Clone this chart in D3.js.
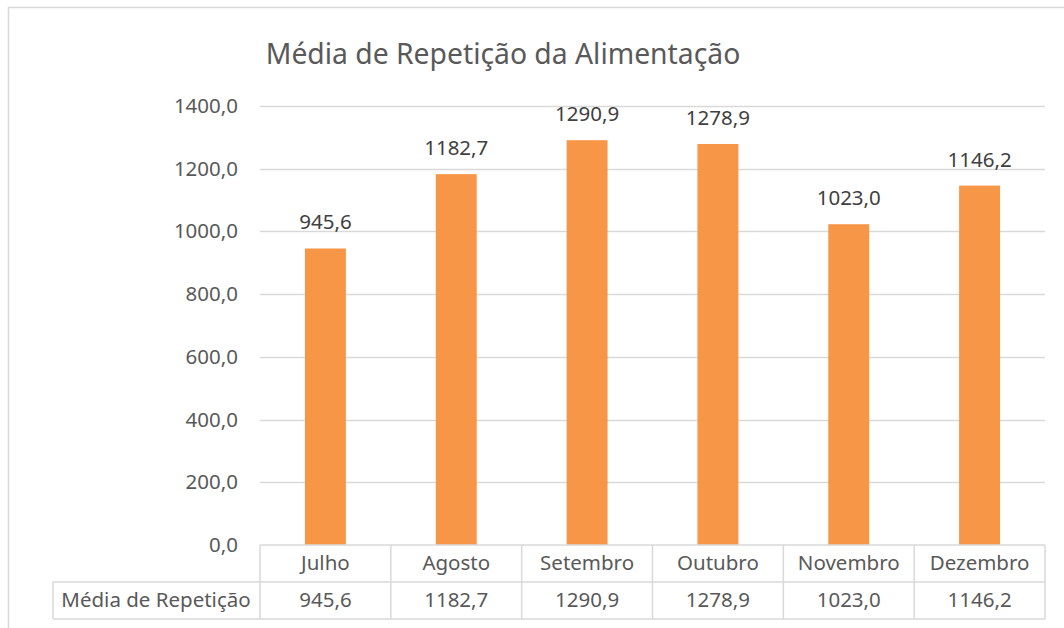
<!DOCTYPE html>
<html><head><meta charset="utf-8">
<script src="https://cdn.jsdelivr.net/npm/d3@7"></script>
<style>
html,body{margin:0;padding:0;background:#fff;}
text{font-family:"Noto Sans","Open Sans",sans-serif;}
</style></head>
<body>
<svg id="c" width="1064" height="628"></svg>
<script>
const title = "Média de Repetição da Alimentação";
const categories = ["Julho","Agosto","Setembro","Outubro","Novembro","Dezembro"];
const values = [945.6,1182.7,1290.9,1278.9,1023.0,1146.2];
const seriesName = "Média de Repetição";
const yTicks = [0,200,400,600,800,1000,1200,1400];

const fmt = v => d3.format(".1f")(v).replace(".", ",");
const svg = d3.select("#c");
const grid = "#d9d9d9", txt = "#595959";

// outer frame
svg.append("path").attr("d","M8.5,628 V7.5 H1064").attr("fill","none").attr("stroke",grid).attr("stroke-width",1.5);

const x = d3.scaleBand().domain(categories).range([260,1045]).padding(0);
const y = d3.scaleLinear().domain([0,1400]).range([545,106]);

// gridlines
svg.append("g").selectAll("line").data(yTicks.filter(d=>d>0)).join("line")
  .attr("x1",260).attr("x2",1045).attr("y1",d=>Math.round(y(d))+0.5).attr("y2",d=>Math.round(y(d))+0.5)
  .attr("stroke",grid).attr("stroke-width",1.5);

// y axis labels
const yAxis = d3.axisLeft(y).tickValues(yTicks).tickFormat(fmt).tickSize(0).tickPadding(22);
const ga = svg.append("g").attr("transform","translate(260,0)").call(yAxis);
ga.select(".domain").remove();
ga.selectAll("text").attr("font-size",20.5).attr("fill",txt).style("font-family",'"Noto Sans",sans-serif');

// bars
const bw = x.bandwidth()*0.313;
svg.append("g").selectAll("rect").data(values).join("rect")
  .attr("x",(d,i)=>x(categories[i])+x.bandwidth()/2-bw/2)
  .attr("width",bw)
  .attr("y",d=>y(d)).attr("height",d=>y(0)-y(d))
  .attr("fill","#f79646");

// data labels
svg.append("g").selectAll("text").data(values).join("text")
  .attr("x",(d,i)=>x(categories[i])+x.bandwidth()/2)
  .attr("y",d=>y(d)-19)
  .attr("text-anchor","middle").attr("font-size",20.5).attr("fill","#404040")
  .text(fmt);

// title
svg.append("text").attr("x",503).attr("y",64).attr("text-anchor","middle")
  .attr("font-size",28.3).attr("fill",txt).text(title);

// data table
const r1 = 545, r2 = 582, r3 = 619;
const tb = svg.append("g").attr("stroke",grid).attr("stroke-width",1.5).attr("fill","none");
tb.append("line").attr("x1",260).attr("x2",1045).attr("y1",r1).attr("y2",r1);
tb.append("line").attr("x1",53).attr("x2",1045).attr("y1",r2).attr("y2",r2);
tb.append("line").attr("x1",53).attr("x2",1045).attr("y1",r3).attr("y2",r3);
tb.append("line").attr("x1",53).attr("x2",53).attr("y1",r2).attr("y2",r3);
const edges = categories.map(c=>x(c)).concat([x.range()[1]]);
tb.selectAll(".v").data(edges).join("line").attr("class","v")
  .attr("x1",d=>d).attr("x2",d=>d).attr("y1",r1).attr("y2",r3);

svg.append("g").selectAll("text").data(categories).join("text")
  .attr("x",d=>x(d)+x.bandwidth()/2).attr("y",570)
  .attr("text-anchor","middle").attr("font-size",20.5).attr("fill",txt).text(d=>d);
svg.append("g").selectAll("text").data(values).join("text")
  .attr("x",(d,i)=>x(categories[i])+x.bandwidth()/2).attr("y",607)
  .attr("text-anchor","middle").attr("font-size",20.5).attr("fill",txt).text(fmt);
svg.append("text").attr("x",156).attr("y",607).attr("text-anchor","middle")
  .attr("font-size",20.5).attr("fill",txt).text(seriesName);
</script>
</body></html>
